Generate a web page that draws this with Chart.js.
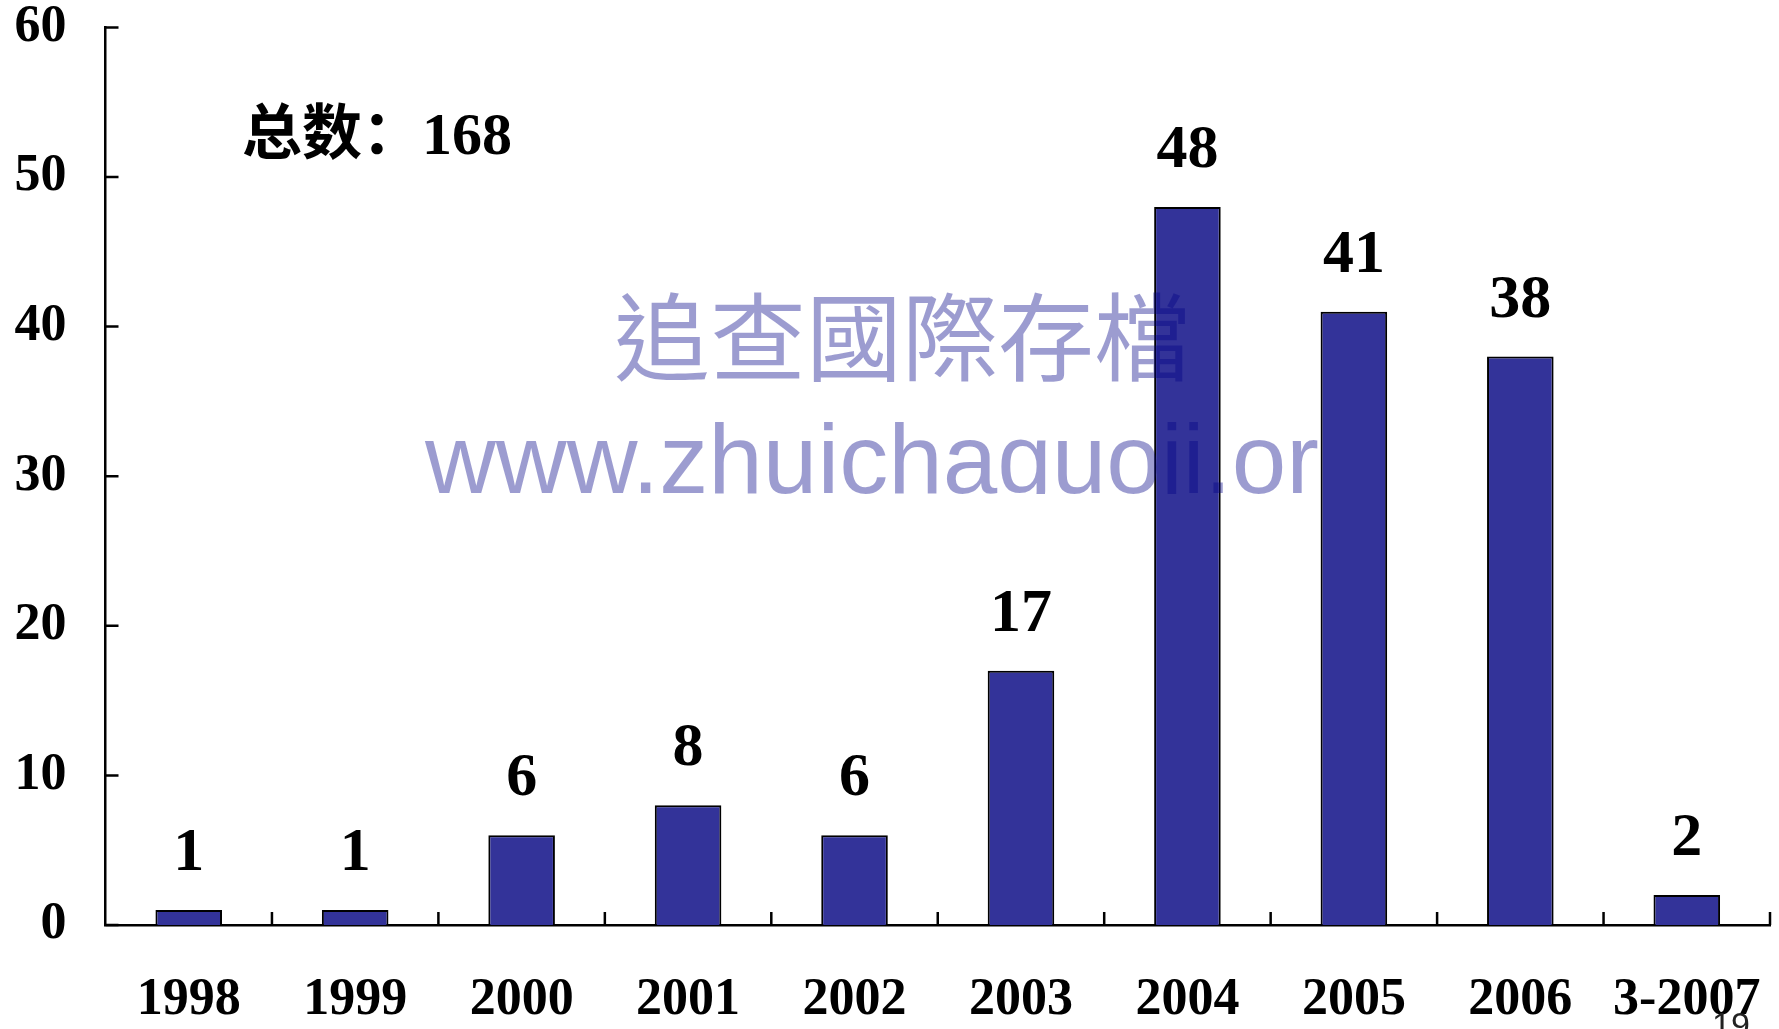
<!DOCTYPE html>
<html>
<head>
<meta charset="utf-8">
<script src="https://cdn.jsdelivr.net/npm/chart.js@4.4.1/dist/chart.umd.min.js"></script>
<style>
html,body{margin:0;padding:0;background:#fff;}
#wrap{position:relative;width:1779px;height:1029px;}
</style>
</head>
<body>
<div id="wrap"><canvas id="c" width="1779" height="1029"></canvas></div>
<script>
const categories = ['1998','1999','2000','2001','2002','2003','2004','2005','2006','3-2007'];
const counts = [1, 1, 6, 8, 6, 17, 48, 41, 38, 2];
const yTicks = [0, 10, 20, 30, 40, 50, 60];
const totalLabel = '总数：168';
const watermarkLine1 = '追查國際存檔';
const watermarkLine2 = 'www.zhuichaguoji.org';
const pageNumber = '19';

const SERIF = "'Liberation Serif','Times New Roman','Noto Sans CJK SC',serif";

const decorPlugin = {
  id: 'decor',
  afterDatasetsDraw(chart) {
    const ctx = chart.ctx;
    const xs = chart.scales.x, ys = chart.scales.y;
    const area = chart.chartArea;
    ctx.save();
    // inward tick marks
    ctx.strokeStyle = '#000';
    ctx.lineWidth = 2.5;
    ctx.beginPath();
    yTicks.forEach(v => {
      const y = ys.getPixelForValue(v);
      ctx.moveTo(area.left, y);
      ctx.lineTo(area.left + 13, y);
    });
    const cw = xs.getPixelForValue(1) - xs.getPixelForValue(0);
    categories.forEach((c, i) => {
      const x = xs.getPixelForValue(i) + cw / 2;
      ctx.moveTo(x, area.bottom);
      ctx.lineTo(x, area.bottom - 13);
    });
    ctx.stroke();

    // value labels
    ctx.fillStyle = '#000';
    ctx.font = 'bold 62px ' + SERIF;
    ctx.textAlign = 'center';
    ctx.textBaseline = 'alphabetic';
    const meta = chart.getDatasetMeta(0);
    meta.data.forEach((bar, i) => {
      ctx.fillText(String(counts[i]), bar.x, bar.y - 40);
    });

    // total
    ctx.textAlign = 'left';
    ctx.font = 'bold 60px ' + SERIF;
    ctx.fillText(totalLabel, 242, 154);

    // watermark (drawn over the bars, clipped)
    const wmFamily = "'Liberation Sans',Arial,sans-serif";
    const visiblePart = watermarkLine2.slice(0, watermarkLine2.length - 1);
    ctx.font = '100px ' + wmFamily;
    const w100 = ctx.measureText(visiblePart).width;
    const wmSize = 100 * 894 / w100;
    ctx.font = wmSize + 'px ' + wmFamily;
    const visW = ctx.measureText(visiblePart).width;
    ctx.save();
    ctx.beginPath();
    ctx.rect(0, 0, 425 + visW, 494);
    ctx.clip();
    ctx.fillStyle = 'rgba(0,0,133,0.39)';
    ctx.font = "96px 'Noto Sans CJK TC','Noto Sans CJK SC',sans-serif";
    ctx.textAlign = 'center';
    ctx.textBaseline = 'middle';
    ctx.fillText(watermarkLine1, 902, 337);
    ctx.font = wmSize + 'px ' + wmFamily;
    ctx.textAlign = 'left';
    ctx.textBaseline = 'alphabetic';
    ctx.fillText(watermarkLine2, 425, 493);
    ctx.restore();

    // page number
    ctx.fillStyle = '#222';
    ctx.font = "34px 'Liberation Sans',Arial,sans-serif";
    ctx.textAlign = 'left';
    ctx.fillText(pageNumber, 1712, 1036);
    ctx.restore();
  }
};

new Chart(document.getElementById('c'), {
  type: 'bar',
  data: {
    labels: categories,
    datasets: [{
      data: counts,
      backgroundColor: '#333399',
      borderColor: '#000',
      borderWidth: 2,
      barPercentage: 0.4,
      categoryPercentage: 1.0
    }]
  },
  options: {
    responsive: false,
    animation: false,
    devicePixelRatio: 1,
    layout: { padding: { top: 27.4, right: 9, bottom: 0, left: 0 } },
    plugins: { legend: { display: false }, tooltip: { enabled: false } },
    scales: {
      x: {
        offset: true,
        grid: { display: false, drawTicks: false, offset: true },
        border: { display: true, color: '#000', width: 2.5 },
        ticks: { color: '#000', font: { family: SERIF, size: 52, weight: 'bold' }, padding: 44, maxRotation: 0, autoSkip: false },
        afterFit(s) { s.height = 104; s.paddingLeft = 0; s.paddingRight = 0; }
      },
      y: {
        min: 0, max: 60,
        grid: { display: false, drawTicks: false },
        border: { display: true, color: '#000', width: 2.5 },
        ticks: { stepSize: 10, color: '#000', font: { family: SERIF, size: 52, weight: 'bold' }, padding: 39 },
        afterFit(s) { s.width = 105.5; s.paddingTop = 0; s.paddingBottom = 0; }
      }
    }
  },
  plugins: [decorPlugin]
});
</script>
</body>
</html>
